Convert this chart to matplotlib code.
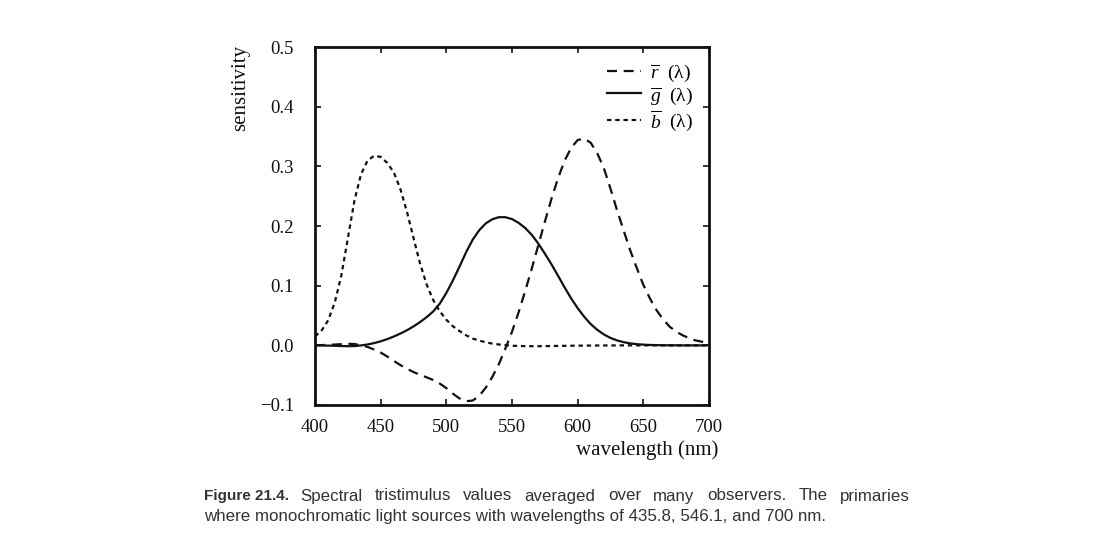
import matplotlib
matplotlib.use("Agg")  # save to file without needing a display
import matplotlib.pyplot as plt

plt.rcParams["font.family"] = ["Liberation Serif", "DejaVu Serif"]
plt.rcParams["mathtext.fontset"] = "custom"
plt.rcParams["mathtext.rm"] = "Liberation Serif"
plt.rcParams["mathtext.it"] = "Liberation Serif:italic"

# wavelengths (nm), 5 nm steps
wavelength = list(range(400, 705, 5))

r_bar = [0.0003, 0.0005, 0.0008, 0.0014, 0.0021, 0.0027, 0.0022, 0.0001, -0.0026, -0.0070,
         -0.0121, -0.0187, -0.0261, -0.0331, -0.0393, -0.0447, -0.0494, -0.0536, -0.0581, -0.0641,
         -0.0717, -0.0810, -0.0890, -0.0936, -0.0926, -0.0847, -0.0710, -0.0529, -0.0315, -0.0052,
         0.0228, 0.0553, 0.0906, 0.1283, 0.1677, 0.2070, 0.2453, 0.2800, 0.3093, 0.3310,
         0.3443, 0.3470, 0.3397, 0.3220, 0.2971, 0.2630, 0.2268, 0.1930, 0.1597, 0.1300,
         0.1017, 0.0790, 0.0593, 0.0440, 0.0315, 0.0230, 0.0169, 0.0120, 0.0082, 0.0060,
         0.0041]

g_bar = [-0.0001, -0.0002, -0.0004, -0.0007, -0.0011, -0.0014, -0.0012, -0.0001, 0.0015, 0.0038,
         0.0068, 0.0105, 0.0149, 0.0198, 0.0254, 0.0318, 0.0391, 0.0474, 0.0569, 0.0700,
         0.0880, 0.1090, 0.1320, 0.1560, 0.1770, 0.1930, 0.2045, 0.2115, 0.2150, 0.2149,
         0.2118, 0.2055, 0.1970, 0.1855, 0.1709, 0.1540, 0.1361, 0.1170, 0.0975, 0.0790,
         0.0625, 0.0480, 0.0356, 0.0260, 0.0183, 0.0125, 0.0083, 0.0054, 0.0033, 0.0020,
         0.0012, 0.0007, 0.0004, 0.0002, 0.0001, 0.0001, 0.0, 0.0, 0.0, 0.0,
         0.0]

b_bar = [0.0150, 0.0250, 0.0420, 0.0720, 0.1170, 0.1800, 0.2430, 0.2870, 0.3100, 0.3180,
         0.3160, 0.3060, 0.2900, 0.2620, 0.2240, 0.1800, 0.1370, 0.1020, 0.0760, 0.0570,
         0.0430, 0.0320, 0.0240, 0.0170, 0.0115, 0.0080, 0.0052, 0.0030, 0.0015, 0.0004,
         -0.0006, -0.0010, -0.0013, -0.0014, -0.0014, -0.0012, -0.0011, -0.0009, -0.0008, -0.0006,
         -0.0005, -0.0004, -0.0003, -0.0002, -0.0002, -0.0001, -0.0001, 0.0, 0.0, 0.0,
         0.0, 0.0, 0.0, 0.0, 0.0, 0.0, 0.0, 0.0, 0.0, 0.0,
         0.0]

x_ticks = [400, 450, 500, 550, 600, 650, 700]
y_ticks = [-0.1, 0.0, 0.1, 0.2, 0.3, 0.4, 0.5]
y_tick_labels = ["\u22120.1", "0.0", "0.1", "0.2", "0.3", "0.4", "0.5"]

caption_label = "Figure 21.4."
caption_line1 = "Spectral tristimulus values averaged over many observers.  The primaries"
caption_line2 = "where monochromatic light sources with wavelengths of 435.8, 546.1, and 700 nm."

W, H = 1094, 559
fig = plt.figure(figsize=(W / 100, H / 100), dpi=100)
ax = fig.add_axes([0.288, 0.2755, 0.360, 0.640])

ink = "#111111"
ax.plot(wavelength, r_bar, color=ink, lw=1.6, dashes=(4.5, 3.0),
        label=r"$\overline{r}$  (λ)")
ax.plot(wavelength, g_bar, color=ink, lw=1.6, label=r"$\overline{g}$  (λ)")
ax.plot(wavelength, b_bar, color=ink, lw=1.6, dashes=(2.0, 1.7),
        label=r"$\overline{b}$  (λ)")

ax.set_xlim(400, 700)
ax.set_ylim(-0.1, 0.5)
ax.set_xticks(x_ticks)
ax.set_yticks(y_ticks)
ax.set_yticklabels(y_tick_labels)
ax.tick_params(direction="in", length=4, width=1.2, top=True, right=True,
               labelsize=13.5, colors=ink)
ax.tick_params(axis="y", pad=15)
ax.tick_params(axis="x", pad=10)
for s in ax.spines.values():
    s.set_linewidth(2.0)
    s.set_color(ink)

ax.text(1.023, -0.1257, "wavelength (nm)", transform=ax.transAxes,
        ha="right", va="center", fontsize=15, color=ink)
ax.text(-0.188, 1.006, "sensitivity", transform=ax.transAxes, rotation=90,
        ha="center", va="top", fontsize=15, color=ink)

ax.legend(loc="upper right", frameon=False, fontsize=14, handlelength=1.75,
          handletextpad=0.45, labelspacing=0.05, borderaxespad=0.4)

# caption, first line justified like the book page
cap = ["Liberation Sans", "DejaVu Sans"]
cap_col = "#333333"
y1 = 1 - 496 / H
y2 = 1 - 517 / H
fig.text(204 / W, y1, caption_label, family=cap, weight="bold",
         fontsize=11, color=cap_col, va="center")
renderer = fig.canvas.get_renderer()
words = caption_line1.split()
items = [fig.text(0, y1, w, family=cap, fontsize=12.2, color=cap_col, va="center")
         for w in words]
widths = [t.get_window_extent(renderer).width for t in items]
x0, x1 = 300, 910
gap = (x1 - x0 - sum(widths)) / (len(words) - 1)
x = x0
for t, w in zip(items, widths):
    t.set_x(x / W)
    x += w + gap
fig.text(204 / W, y2, caption_line2, family=cap, fontsize=12.2, color=cap_col,
         va="center")

fig.savefig("out.png", dpi=100)
